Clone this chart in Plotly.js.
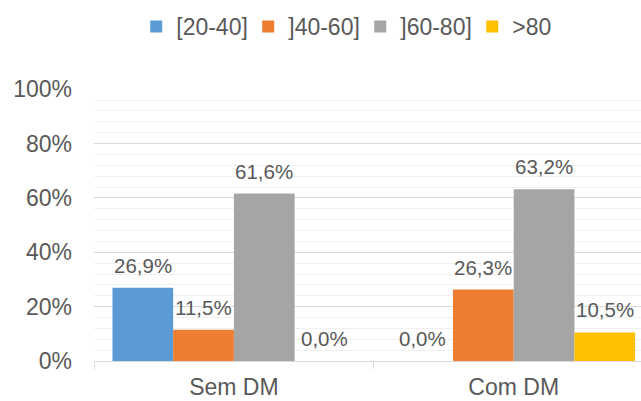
<!DOCTYPE html>
<html>
<head>
<meta charset="utf-8">
<script src="https://cdn.plot.ly/plotly-3.0.1.min.js"></script>
<style>html,body{margin:0;padding:0;background:#fff;}#chart{width:641px;height:401px;}</style>
</head>
<body>
<div id="chart"></div>
<script>
const categories = ["Sem DM", "Com DM"];
const seriesNames = ["[20-40]", "]40-60]", "]60-80]", ">80"];
const s2040 = [26.9, 0.0];
const s4060 = [11.5, 26.3];
const s6080 = [61.6, 63.2];
const s80 = [0.0, 10.5];
const yTicks = [0, 20, 40, 60, 80, 100];

const seriesValues = [s2040, s4060, s6080, s80];
const colors = ["#5b9bd5", "#ed7d31", "#a5a5a5", "#ffc000"];
const fontFam = "Liberation Sans, Arial, sans-serif";
const txtColor = "#595959";
const bargap = 0.132;
const fmt = v => v.toFixed(1).replace('.', ',') + '%';

const traces = seriesValues.map((vals, i) => ({
  type: 'bar',
  name: seriesNames[i],
  x: categories,
  y: vals,
  marker: {color: colors[i], line: {width: 0}},
  hoverinfo: 'none'
}));

const nS = seriesValues.length;
const bw = (1 - bargap) / nS;
const annotations = [];
seriesValues.forEach((vals, i) => {
  vals.forEach((v, ci) => {
    annotations.push({
      x: ci + (i - (nS - 1) / 2) * bw,
      y: v,
      xref: 'x', yref: 'y',
      text: fmt(v),
      showarrow: false,
      yanchor: 'bottom',
      yshift: 9,
      font: {family: fontFam, size: 20.5, color: txtColor}
    });
  });
});

const layout = {
  width: 641, height: 401,
  margin: {l: 94, r: 0, t: 89, b: 40},
  paper_bgcolor: '#fff', plot_bgcolor: '#fff',
  font: {family: fontFam, color: txtColor, size: 20},
  barmode: 'group',
  bargap: bargap,
  bargroupgap: 0,
  showlegend: true,
  legend: {
    orientation: 'h',
    xref: 'container', yref: 'container',
    x: 0.562, xanchor: 'center',
    y: 0.9875, yanchor: 'top',
    font: {family: fontFam, size: 23, color: txtColor},
    itemwidth: 30,
    entrywidth: 67, entrywidthmode: 'pixels',
    traceorder: 'normal'
  },
  xaxis: {
    type: 'category',
    range: [-0.5, 1.455],
    showline: true, linecolor: '#d9d9d9', linewidth: 1,
    ticks: 'outside', tickson: 'boundaries', ticklen: 7, tickcolor: '#d9d9d9',
    showgrid: false, zeroline: false,
    ticklabelstandoff: 5,
    tickfont: {family: fontFam, size: 23, color: txtColor},
    fixedrange: true
  },
  yaxis: {
    range: [0, 100.05],
    tickvals: yTicks,
    ticktext: yTicks.map(t => t + '%'),
    showgrid: true, gridcolor: '#d9d9d9', gridwidth: 1,
    minor: {dtick: 4, tick0: 0, showgrid: true, gridcolor: '#f0f0f0', gridwidth: 1},
    zeroline: false, showline: false,
    ticks: '', ticklabelstandoff: 21,
    tickfont: {family: fontFam, size: 23, color: txtColor},
    fixedrange: true
  },
  annotations: annotations
};

Plotly.newPlot('chart', traces, layout, {displayModeBar: false, staticPlot: true});
</script>
</body>
</html>
